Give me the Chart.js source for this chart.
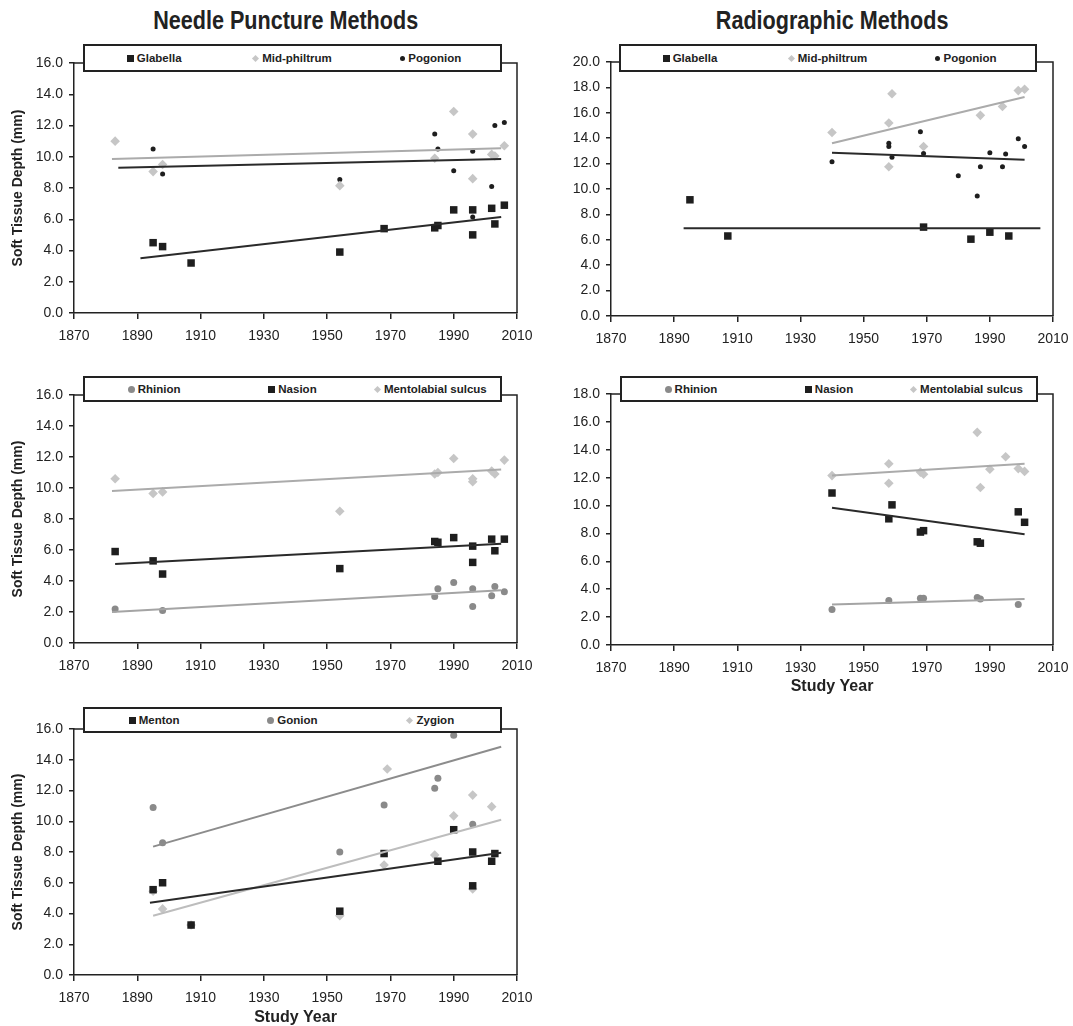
<!DOCTYPE html>
<html>
<head>
<meta charset="utf-8">
<title>Soft tissue depth by study year</title>
<script src="https://cdn.jsdelivr.net/npm/chart.js@4/dist/chart.umd.min.js"></script>
<style>
  body { margin: 0; background: #fff; }
  #page { position: relative; width: 1073px; height: 1026px; overflow: hidden; font-family: "Liberation Sans", Arial, sans-serif; color: #222; }
  canvas { position: absolute; }
  .title { position: absolute; top: 7px; margin: 0; text-align: center; font: bold 26px/26px "Liberation Sans Narrow", "Arial Narrow", "Liberation Sans", sans-serif; color: #222; }
  .title span { display: inline-block; transform: scaleX(0.83); transform-origin: center; white-space: nowrap; }
  .legend { position: absolute; box-sizing: border-box; border: 2px solid #222; background: #fff; display: flex; align-items: center; }
  .legend .item { flex: 1; display: flex; justify-content: center; align-items: center; font-weight: bold; font-size: 11.5px; }
  .legend .mark { display: inline-block; margin-right: 3px; }
</style>
</head>
<body>
<div id="page">
  <div class="title" style="left:64px;width:443px"><span>Needle Puncture Methods</span></div>
  <div class="title" style="left:611px;width:442px"><span>Radiographic Methods</span></div>
  <canvas id="c1"></canvas>
  <canvas id="c2"></canvas>
  <canvas id="c3"></canvas>
  <canvas id="c4"></canvas>
  <canvas id="c5"></canvas>
</div>
<script>
// tick labels
const yearTicks = [1870, 1890, 1910, 1930, 1950, 1970, 1990, 2010];
const depthTicks16 = [0, 2, 4, 6, 8, 10, 12, 14, 16];
const depthTicks18 = [0, 2, 4, 6, 8, 10, 12, 14, 16, 18];
const depthTicks20 = [0, 2, 4, 6, 8, 10, 12, 14, 16, 18, 20];

// needle puncture: glabella / mid-philtrum / pogonion
const npGlabellaYears = [1895, 1898, 1907, 1954, 1968, 1984, 1985, 1990, 1996, 1996, 2002, 2003, 2006];
const npGlabellaDepth = [4.5, 4.25, 3.2, 3.9, 5.4, 5.45, 5.6, 6.6, 6.6, 5.0, 6.7, 5.7, 6.9];
const npGlabellaFit = [[1891, 3.5], [2005, 6.15]];
const npMidPhiltrumYears = [1883, 1895, 1898, 1954, 1984, 1990, 1996, 1996, 2002, 2003, 2006];
const npMidPhiltrumDepth = [11.0, 9.05, 9.5, 8.15, 9.9, 12.9, 11.45, 8.6, 10.15, 10.05, 10.7];
const npMidPhiltrumFit = [[1882, 9.85], [2005, 10.55]];
const npPogonionYears = [1895, 1898, 1954, 1984, 1985, 1990, 1996, 1996, 2002, 2003, 2006];
const npPogonionDepth = [10.5, 8.9, 8.55, 11.45, 10.5, 9.1, 10.35, 6.15, 8.1, 12.0, 12.2];
const npPogonionFit = [[1884, 9.3], [2005, 9.85]];

// radiographic: glabella / mid-philtrum / pogonion
const rdGlabellaYears = [1895, 1907, 1969, 1984, 1990, 1996];
const rdGlabellaDepth = [9.15, 6.3, 7.0, 6.05, 6.6, 6.3];
const rdGlabellaFit = [[1893, 6.9], [2006, 6.9]];
const rdMidPhiltrumYears = [1940, 1958, 1959, 1958, 1969, 1987, 1994, 1999, 2001];
const rdMidPhiltrumDepth = [14.45, 15.2, 17.5, 11.75, 13.35, 15.8, 16.5, 17.75, 17.85];
const rdMidPhiltrumFit = [[1940, 13.6], [2001, 17.25]];
const rdPogonionYears = [1940, 1958, 1958, 1959, 1968, 1969, 1980, 1986, 1987, 1990, 1994, 1995, 1999, 2001];
const rdPogonionDepth = [12.15, 13.6, 13.35, 12.5, 14.5, 12.8, 11.05, 9.45, 11.75, 12.85, 11.75, 12.75, 13.95, 13.35];
const rdPogonionFit = [[1940, 12.85], [2001, 12.3]];

// needle puncture: rhinion / nasion / mentolabial sulcus
const npRhinionYears = [1883, 1898, 1984, 1985, 1990, 1996, 1996, 2002, 2003, 2006];
const npRhinionDepth = [2.2, 2.1, 3.0, 3.5, 3.9, 3.5, 2.35, 3.05, 3.65, 3.3];
const npRhinionFit = [[1882, 2.0], [2005, 3.4]];
const npNasionYears = [1883, 1895, 1898, 1954, 1984, 1985, 1990, 1996, 1996, 2002, 2003, 2006];
const npNasionDepth = [5.9, 5.3, 4.45, 4.8, 6.55, 6.5, 6.8, 6.25, 5.2, 6.7, 5.95, 6.7];
const npNasionFit = [[1883, 5.1], [2005, 6.4]];
const npMentolabialYears = [1883, 1895, 1898, 1954, 1984, 1985, 1990, 1996, 1996, 2002, 2003, 2006];
const npMentolabialDepth = [10.6, 9.65, 9.75, 8.5, 10.9, 11.0, 11.9, 10.6, 10.4, 11.1, 10.9, 11.8];
const npMentolabialFit = [[1882, 9.8], [2005, 11.2]];

// radiographic: rhinion / nasion / mentolabial sulcus
const rdRhinionYears = [1940, 1958, 1968, 1969, 1986, 1987, 1999];
const rdRhinionDepth = [2.55, 3.2, 3.35, 3.35, 3.4, 3.3, 2.9];
const rdRhinionFit = [[1940, 2.9], [2001, 3.3]];
const rdNasionYears = [1940, 1958, 1959, 1968, 1969, 1986, 1987, 1999, 2001];
const rdNasionDepth = [10.9, 9.05, 10.05, 8.1, 8.2, 7.4, 7.3, 9.55, 8.8];
const rdNasionFit = [[1940, 9.85], [2001, 7.95]];
const rdMentolabialYears = [1940, 1958, 1958, 1968, 1969, 1986, 1987, 1990, 1995, 1999, 2001];
const rdMentolabialDepth = [12.15, 13.0, 11.6, 12.4, 12.25, 15.25, 11.3, 12.6, 13.5, 12.65, 12.45];
const rdMentolabialFit = [[1940, 12.15], [2001, 13.0]];

// needle puncture: menton / gonion / zygion
const npMentonYears = [1895, 1898, 1907, 1954, 1968, 1985, 1990, 1996, 1996, 2002, 2003];
const npMentonDepth = [5.55, 6.0, 3.25, 4.15, 7.9, 7.4, 9.45, 8.0, 5.8, 7.4, 7.9];
const npMentonFit = [[1894, 4.7], [2005, 7.95]];
const npGonionYears = [1895, 1898, 1907, 1954, 1968, 1984, 1985, 1990, 1996];
const npGonionDepth = [10.9, 8.6, 3.25, 8.0, 11.05, 12.15, 12.8, 15.6, 9.8];
const npGonionFit = [[1895, 8.35], [2005, 14.85]];
const npZygionYears = [1895, 1898, 1907, 1954, 1968, 1969, 1984, 1990, 1996, 1996, 2002];
const npZygionDepth = [5.45, 4.3, 3.25, 3.85, 7.15, 13.4, 7.8, 10.35, 11.7, 5.6, 10.95];
const npZygionFit = [[1895, 3.85], [2005, 10.1]];

const axisColor = '#222';
const black = '#1e1e1e';
const midGray = '#8a8a8a';
const lightGray = '#c6c6c6';

Chart.defaults.font.family = '"Liberation Sans", Arial, sans-serif';
Chart.defaults.color = '#222';

const square = { pointStyle: 'rect', pointRadius: 5.3, color: black };
const diamond = { pointStyle: 'rectRot', pointRadius: 4.8, color: lightGray };
const dot = { pointStyle: 'circle', pointRadius: 2.5, color: black };
const disc = { pointStyle: 'circle', pointRadius: 3.5, color: midGray };

function points(xs, ys) {
    return xs.map((x, i) => ({ x: x, y: ys[i] }));
}

function scatterSet(label, xs, ys, marker) {
    return {
        label: label,
        data: points(xs, ys),
        pointStyle: marker.pointStyle,
        pointRadius: marker.pointRadius,
        pointHoverRadius: marker.pointRadius,
        backgroundColor: marker.color,
        borderColor: marker.color,
        borderWidth: 0,
        showLine: false
    };
}

function fitSet(fit, color) {
    return {
        label: 'fit',
        isFit: true,
        data: fit.map(p => ({ x: p[0], y: p[1] })),
        showLine: true,
        borderColor: color,
        borderWidth: 2,
        pointRadius: 0,
        pointHoverRadius: 0,
        fill: false
    };
}

// draws the top and right edges of the plot box
const frame = {
    id: 'frame',
    afterDraw(chart) {
        const { ctx, chartArea: a } = chart;
        ctx.save();
        ctx.strokeStyle = axisColor;
        ctx.lineWidth = 1.5;
        ctx.beginPath();
        ctx.moveTo(a.left, a.top);
        ctx.lineTo(a.right, a.top);
        ctx.lineTo(a.right, a.bottom);
        ctx.stroke();
        ctx.restore();
    }
};

const panels = [
    {
        id: 'c1', box: [0, 40, 560, 320], area: [74, 63, 517, 313], legend: [83, 44, 502, 72],
        yTicks: depthTicks16, yTitle: true, xTitle: null,
        series: [
            scatterSet('Glabella', npGlabellaYears, npGlabellaDepth, square),
            scatterSet('Mid-philtrum', npMidPhiltrumYears, npMidPhiltrumDepth, diamond),
            scatterSet('Pogonion', npPogonionYears, npPogonionDepth, dot)
        ],
        fits: [fitSet(npGlabellaFit, '#2a2a2a'), fitSet(npMidPhiltrumFit, '#ababab'), fitSet(npPogonionFit, '#2a2a2a')]
    },
    {
        id: 'c2', box: [540, 40, 553, 320], area: [611, 62, 1053, 316], legend: [619, 44, 1037, 72],
        yTicks: depthTicks20, yTitle: false, xTitle: null,
        series: [
            scatterSet('Glabella', rdGlabellaYears, rdGlabellaDepth, square),
            scatterSet('Mid-philtrum', rdMidPhiltrumYears, rdMidPhiltrumDepth, diamond),
            scatterSet('Pogonion', rdPogonionYears, rdPogonionDepth, dot)
        ],
        fits: [fitSet(rdGlabellaFit, '#2a2a2a'), fitSet(rdMidPhiltrumFit, '#ababab'), fitSet(rdPogonionFit, '#2a2a2a')]
    },
    {
        id: 'c3', box: [0, 370, 560, 330], area: [74, 395, 517, 643], legend: [83, 376, 502, 402],
        yTicks: depthTicks16, yTitle: true, xTitle: null,
        series: [
            scatterSet('Rhinion', npRhinionYears, npRhinionDepth, disc),
            scatterSet('Nasion', npNasionYears, npNasionDepth, square),
            scatterSet('Mentolabial sulcus', npMentolabialYears, npMentolabialDepth, diamond)
        ],
        fits: [fitSet(npRhinionFit, '#a4a4a4'), fitSet(npNasionFit, '#2a2a2a'), fitSet(npMentolabialFit, '#ababab')]
    },
    {
        id: 'c4', box: [540, 370, 553, 330], area: [611, 394, 1053, 645], legend: [620, 376, 1038, 402],
        yTicks: depthTicks18, yTitle: false, xTitle: 'Study Year', xTitlePad: 5,
        series: [
            scatterSet('Rhinion', rdRhinionYears, rdRhinionDepth, disc),
            scatterSet('Nasion', rdNasionYears, rdNasionDepth, square),
            scatterSet('Mentolabial sulcus', rdMentolabialYears, rdMentolabialDepth, diamond)
        ],
        fits: [fitSet(rdRhinionFit, '#a4a4a4'), fitSet(rdNasionFit, '#2a2a2a'), fitSet(rdMentolabialFit, '#ababab')]
    },
    {
        id: 'c5', box: [0, 700, 560, 326], area: [74, 729, 517, 975], legend: [83, 707, 502, 733],
        yTicks: depthTicks16, yTitle: true, xTitle: 'Study Year', xTitlePad: 0,
        series: [
            scatterSet('Menton', npMentonYears, npMentonDepth, square),
            scatterSet('Gonion', npGonionYears, npGonionDepth, disc),
            scatterSet('Zygion', npZygionYears, npZygionDepth, diamond)
        ],
        fits: [fitSet(npMentonFit, '#2a2a2a'), fitSet(npGonionFit, '#8c8c8c'), fitSet(npZygionFit, '#bdbdbd')]
    }
];

function buildLegend(p) {
    const [l, t, r, b] = p.legend;
    const el = document.createElement('div');
    el.className = 'legend';
    el.style.left = l + 'px';
    el.style.top = t + 'px';
    el.style.width = (r - l) + 'px';
    el.style.height = (b - t) + 'px';
    p.series.forEach(ds => {
        const item = document.createElement('div');
        item.className = 'item';
        const mark = document.createElement('span');
        mark.className = 'mark';
        mark.style.background = ds.backgroundColor;
        if (ds.pointStyle === 'rect') {
            mark.style.width = '7px';
            mark.style.height = '7px';
        } else if (ds.pointStyle === 'rectRot') {
            mark.style.width = '5px';
            mark.style.height = '5px';
            mark.style.transform = 'rotate(45deg)';
            mark.style.marginRight = '4px';
        } else {
            const d = Math.round(ds.pointRadius * 2);
            mark.style.width = d + 'px';
            mark.style.height = d + 'px';
            mark.style.borderRadius = '50%';
        }
        const text = document.createElement('span');
        text.textContent = ds.label;
        item.appendChild(mark);
        item.appendChild(text);
        el.appendChild(item);
    });
    document.getElementById('page').appendChild(el);
}

panels.forEach(p => {
    const [bx, by, bw, bh] = p.box;
    const [left, top, right, bottom] = p.area;
    const canvas = document.getElementById(p.id);
    canvas.width = bw;
    canvas.height = bh;
    canvas.style.left = bx + 'px';
    canvas.style.top = by + 'px';
    canvas.style.width = bw + 'px';
    canvas.style.height = bh + 'px';

    const yWidth = left - bx;
    const xHeight = by + bh - bottom;

    new Chart(canvas.getContext('2d'), {
        type: 'scatter',
        data: { datasets: p.fits.concat(p.series) },
        options: {
            responsive: false,
            animation: false,
            devicePixelRatio: 1,
            layout: { padding: { left: 0, top: top - by, right: bx + bw - right, bottom: 0 } },
            plugins: { legend: { display: false }, tooltip: { enabled: false } },
            scales: {
                x: {
                    type: 'linear',
                    min: yearTicks[0],
                    max: yearTicks[yearTicks.length - 1],
                    afterBuildTicks: s => { s.ticks = yearTicks.map(v => ({ value: v })); },
                    afterFit: s => { s.height = xHeight; },
                    grid: { drawOnChartArea: false, tickLength: 6, color: axisColor, lineWidth: 1.5 },
                    border: { color: axisColor, width: 1.5 },
                    ticks: { color: '#222', font: { size: 14 }, padding: 9, maxRotation: 0, callback: v => String(v) },
                    title: {
                        display: !!p.xTitle,
                        text: p.xTitle || '',
                        color: '#222',
                        font: { size: 16, weight: 'bold', lineHeight: 1 },
                        padding: { top: 0, bottom: p.xTitlePad || 0 }
                    }
                },
                y: {
                    type: 'linear',
                    min: p.yTicks[0],
                    max: p.yTicks[p.yTicks.length - 1],
                    afterBuildTicks: s => { s.ticks = p.yTicks.map(v => ({ value: v })); },
                    afterFit: s => { s.width = yWidth; },
                    grid: { drawOnChartArea: false, tickLength: 5, color: axisColor, lineWidth: 1.5 },
                    border: { color: axisColor, width: 1.5 },
                    ticks: { color: '#222', font: { size: 14 }, padding: 6, callback: v => v.toFixed(1) },
                    title: {
                        display: p.yTitle,
                        text: 'Soft Tissue Depth (mm)',
                        color: '#222',
                        font: { size: 14, weight: 'bold' },
                        padding: { top: 10, bottom: 0 }
                    }
                }
            }
        },
        plugins: [frame]
    });

    buildLegend(p);
});
</script>
</body>
</html>
